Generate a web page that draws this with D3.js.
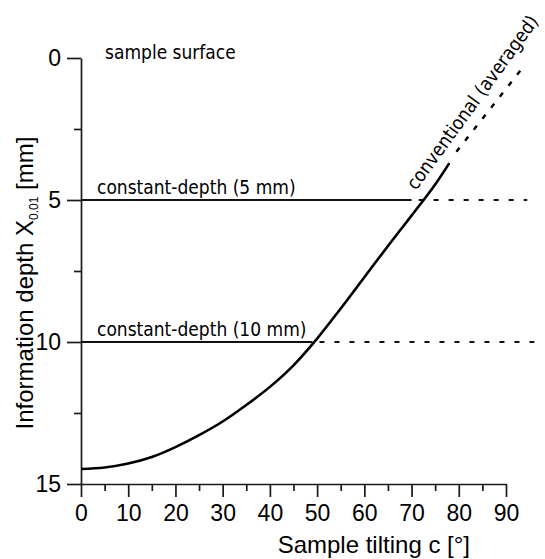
<!DOCTYPE html>
<html>
<head>
<meta charset="utf-8">
<script src="https://cdn.jsdelivr.net/npm/d3@7"></script>
<style>
  body { margin: 0; background: #fff; }
  .axis text { font-family: "Liberation Sans", Arial, sans-serif; font-size: 23px; fill: #000; }
  .axis path, .axis line { stroke: #1a1a1a; stroke-width: 1.7px; }
  .note { font-family: "DejaVu Sans Condensed", "DejaVu Sans", sans-serif; font-stretch: condensed; font-size: 19px; fill: #000; }
</style>
</head>
<body>
<div id="chart"></div>
<script>
// conventional (averaged) curve
const tiltDeg  = [0, 5, 10, 15, 20, 25, 30, 35, 40, 45, 50, 55, 60, 65, 70, 75, 78];
const depthMm  = [14.47, 14.42, 14.28, 14.05, 13.7, 13.28, 12.8, 12.22, 11.58, 10.82, 9.88, 8.82, 7.72, 6.62, 5.55, 4.45, 3.7];
// dashed continuation
const extDeg   = [79.5, 93.5];
const extDepth = [3.3, 0.35];
// constant-depth lines
const levels      = [5, 10];
const levelLabels = ["constant-depth (5 mm)", "constant-depth (10 mm)"];
const solidEnd    = [70, 49];
const dashEnd     = [94.5, 96];

const xTicks = [0, 10, 20, 30, 40, 50, 60, 70, 80, 90];
const xMinor = [5, 15, 25, 35, 45, 55, 65, 75, 85];
const yTicks = [0, 5, 10, 15];
const yMinor = [2.5, 7.5, 12.5];

const width = 545, height = 559;

const svg = d3.select("#chart").append("svg")
  .attr("width", width)
  .attr("height", height);

const x = d3.scaleLinear().domain([0, 90]).range([81, 506]);
const y = d3.scaleLinear().domain([0, 15]).range([58, 484]);

// x axis
svg.append("g")
  .attr("class", "axis")
  .attr("transform", "translate(0," + y(15) + ")")
  .call(d3.axisBottom(x).tickValues(xTicks).tickSize(13).tickSizeOuter(0).tickPadding(8));
svg.append("g")
  .attr("class", "axis")
  .attr("transform", "translate(0," + y(15) + ")")
  .call(d3.axisBottom(x).tickValues(xMinor).tickSize(7).tickFormat("").tickSizeOuter(0))
  .select(".domain").remove();

// y axis
svg.append("g")
  .attr("class", "axis")
  .attr("transform", "translate(" + x(0) + ",0)")
  .call(d3.axisLeft(y).tickValues(yTicks).tickSize(14).tickSizeOuter(0).tickPadding(6));
svg.append("g")
  .attr("class", "axis")
  .attr("transform", "translate(" + x(0) + ",0)")
  .call(d3.axisLeft(y).tickValues(yMinor).tickSize(7).tickFormat("").tickSizeOuter(0))
  .select(".domain").remove();

// axis titles
svg.append("text")
  .attr("x", 470).attr("y", 553)
  .attr("text-anchor", "end")
  .style("font-family", "Liberation Sans, Arial, sans-serif")
  .style("font-size", "24px")
  .text("Sample tilting c [°]");

const yt = svg.append("text")
  .attr("transform", "translate(33,283) rotate(-90)")
  .attr("text-anchor", "middle")
  .style("font-family", "Liberation Sans, Arial, sans-serif")
  .style("font-size", "24px");
yt.append("tspan").text("Information depth  X");
yt.append("tspan").attr("dy", 5).style("font-size", "12px").text("0.01");
yt.append("tspan").attr("dy", -5).text(" [mm]");

// constant-depth lines
const line = d3.line().x(d => x(d[0])).y(d => y(d[1]));

levels.forEach(function (lv, i) {
  svg.append("path")
    .attr("d", line([[0, lv], [solidEnd[i], lv]]))
    .attr("fill", "none")
    .attr("stroke", "#111")
    .attr("stroke-width", 2);
  svg.append("path")
    .attr("d", line([[solidEnd[i] + 1.5, lv], [dashEnd[i], lv]]))
    .attr("fill", "none")
    .attr("stroke", "#111")
    .attr("stroke-width", 2)
    .attr("stroke-dasharray", "5,10");
  svg.append("text")
    .attr("class", "note")
    .attr("x", 97)
    .attr("y", y(lv) - 6)
    .text(levelLabels[i]);
});

// conventional curve
svg.append("path")
  .attr("d", d3.line().curve(d3.curveCatmullRom).x((d, i) => x(d)).y((d, i) => y(depthMm[i]))(tiltDeg))
  .attr("fill", "none")
  .attr("stroke", "#000")
  .attr("stroke-width", 2.6);

svg.append("path")
  .attr("d", d3.line().x((d, i) => x(d)).y((d, i) => y(extDepth[i]))(extDeg))
  .attr("fill", "none")
  .attr("stroke", "#000")
  .attr("stroke-width", 2.4)
  .attr("stroke-dasharray", "5,9");

svg.append("text")
  .attr("class", "note")
  .attr("transform", "translate(416,191) rotate(-54)")
  .text("conventional (averaged)");

svg.append("text")
  .attr("class", "note")
  .attr("x", 105)
  .attr("y", 59)
  .text("sample surface");
</script>
</body>
</html>
